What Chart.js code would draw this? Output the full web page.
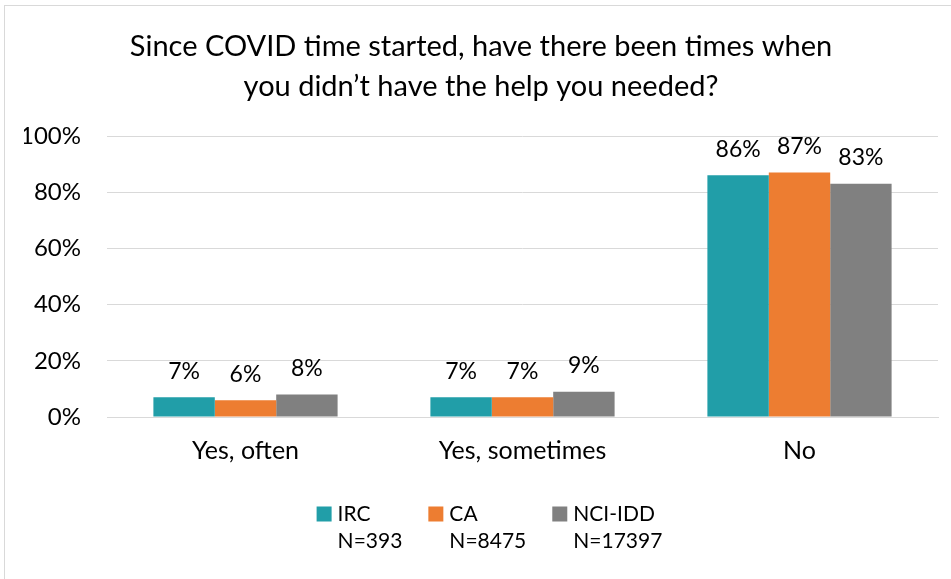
<!DOCTYPE html>
<html>
<head>
<meta charset="utf-8">
<script src="https://cdn.jsdelivr.net/npm/chart.js@4"></script>
<style>
  html, body { margin: 0; padding: 0; background: #fff; overflow: hidden; }
  #wrap { position: relative; width: 951px; height: 579px; }
  #frame {
    position: absolute; left: 4px; top: 5px; width: 1000px; height: 1000px;
    border: 1px solid #d9d9d9; pointer-events: none;
  }
</style>
</head>
<body>
<div id="wrap">
  <canvas id="chart"></canvas>
  <div id="frame"></div>
</div>
<script>
  const titleLines = [
    "Since COVID time started, have there been times when",
    "you didn\u2019t have the help you needed?",
  ];
  const categories = ["Yes, often", "Yes, sometimes", "No"];
  const seriesNames = ["IRC", "CA", "NCI-IDD"];
  const sampleSizes = ["N=393", "N=8475", "N=17397"];
  const ircValues = [7, 7, 86];
  const caValues = [6, 7, 87];
  const nciValues = [8, 9, 83];
  const yTicks = [0, 20, 40, 60, 80, 100];

  const fontFamily = "Lato, 'Open Sans', sans-serif";
  const colors = ["#219ea8", "#ed7d31", "#808080"];

  // % labels above each bar
  const barLabels = {
    id: "barLabels",
    afterDatasetsDraw(chart) {
      const ctx = chart.ctx;
      ctx.save();
      ctx.font = `23px ${fontFamily}`;
      ctx.fillStyle = "#000";
      ctx.textAlign = "center";
      ctx.textBaseline = "middle";
      chart.data.datasets.forEach((ds, i) => {
        const meta = chart.getDatasetMeta(i);
        meta.data.forEach((bar, j) => {
          ctx.fillText(`${ds.data[j]}%`, bar.x, bar.y - 26);
        });
      });
      ctx.restore();
    },
  };

  // two-line legend (series name + sample size) under the axis
  const twoLineLegend = {
    id: "twoLineLegend",
    afterDraw(chart) {
      const ctx = chart.ctx;
      const box = 15, gap = 6, spacing = 26, lineGap = 27;
      ctx.save();
      ctx.font = `21px ${fontFamily}`;
      const widths = seriesNames.map((name, i) =>
        box + gap + Math.max(ctx.measureText(name).width, ctx.measureText(sampleSizes[i]).width)
      );
      const total = widths.reduce((a, b) => a + b, 0) + spacing * (widths.length - 1);
      let x = chart.width / 2 + 14 - total / 2;
      const y = chart.chartArea.bottom + 97;
      ctx.textBaseline = "middle";
      ctx.textAlign = "left";
      seriesNames.forEach((name, i) => {
        ctx.fillStyle = colors[i];
        ctx.fillRect(x, y - box / 2, box, box);
        ctx.fillStyle = "#000";
        ctx.fillText(name, x + box + gap, y);
        ctx.fillText(sampleSizes[i], x + box + gap, y + lineGap);
        x += widths[i] + spacing;
      });
      ctx.restore();
    },
  };

  const datasets = [ircValues, caValues, nciValues].map((values, i) => ({
    label: seriesNames[i],
    data: values,
    backgroundColor: colors[i],
    borderWidth: 0,
    barPercentage: 1,
    categoryPercentage: 0.665,
  }));

  new Chart(document.getElementById("chart"), {
    type: "bar",
    data: { labels: categories, datasets },
    options: {
      responsive: true,
      maintainAspectRatio: false,
      animation: false,
      layout: { padding: { left: 24, right: 13, top: 0, bottom: 94 } },
      plugins: {
        title: {
          display: true,
          text: titleLines,
          color: "#000",
          font: { family: fontFamily, size: 29, weight: "normal", lineHeight: 1.38 },
          padding: { top: 27, bottom: 29 },
        },
        legend: { display: false },
        tooltip: { enabled: false },
      },
      scales: {
        x: {
          grid: { display: false, drawTicks: false },
          border: { color: "#d9d9d9", width: 1 },
          ticks: { color: "#000", font: { family: fontFamily, size: 25 }, padding: 19 },
        },
        y: {
          min: 0,
          max: 100,
          afterBuildTicks(scale) {
            scale.ticks = yTicks.map((v) => ({ value: v }));
          },
          afterFit(scale) {
            scale.width = 83;
          },
          grid: { color: "#d9d9d9", lineWidth: 1, drawTicks: false },
          border: { display: false },
          ticks: {
            color: "#000",
            font: { family: fontFamily, size: 24 },
            padding: 26,
            callback: (v) => `${v}%`,
          },
        },
      },
    },
    plugins: [barLabels, twoLineLegend],
  });
</script>
</body>
</html>
